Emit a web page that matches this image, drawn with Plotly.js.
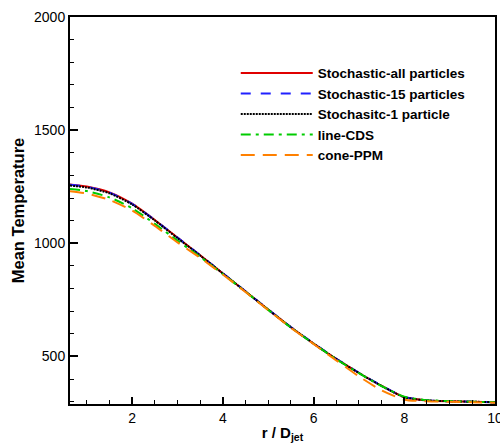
<!DOCTYPE html>
<html>
<head>
<meta charset="utf-8">
<script src="https://cdn.plot.ly/plotly-3.0.1.min.js"></script>
<style>html,body{margin:0;padding:0;background:#fff}#chart{width:500px;height:445px}</style>
</head>
<body>
<div id="chart"></div>
<script>
const r = [0.63, 1.0, 1.5, 2.0, 2.5, 3.0, 3.5, 4.0, 4.5, 5.0, 5.5, 6.0, 6.5, 7.0, 7.5, 8.0, 8.5, 9.0, 9.5, 10.0];
const allParticles = [1260, 1251, 1225, 1175, 1103, 1025, 947, 867, 787, 707, 629, 557, 489, 427, 370, 320, 306, 302, 300, 298];
const particles15  = [1259, 1250, 1224, 1174, 1103, 1025, 947, 868, 788, 708, 630, 558, 490, 428, 371, 321, 306, 302, 300, 298];
const particle1    = [1255, 1247, 1221, 1172, 1101, 1023, 946, 867, 787, 707, 629, 557, 489, 427, 370, 320, 306, 302, 300, 298];
const lineCDS      = [1240, 1231, 1203, 1155, 1086, 1012, 940, 864, 786, 706, 628, 556, 488, 426, 369, 322, 307, 303, 300, 298];
const conePPM      = [1230, 1220, 1192, 1145, 1077, 1004, 936, 862, 785, 705, 627, 555, 483, 412, 350, 309, 302, 300, 298, 296];
const names = ['Stochastic-all particles', 'Stochastic-15 particles', 'Stochasitc-1 particle', 'line-CDS', 'cone-PPM'];

const styles = [
  {color: '#e00000', dash: 'solid', width: 2},
  {color: '#2020ff', dash: '10px,10px', width: 2},
  {color: '#000000', dash: '2px,1px', width: 2},
  {color: '#00cc00', dash: '10px,5px,3px,5px', width: 2},
  {color: '#ff8000', dash: '14px,8px', width: 2}
];
const series = [allParticles, particles15, particle1, lineCDS, conePPM];
const traces = series.map((y, i) => ({
  x: r, y: y, type: 'scatter', mode: 'lines', name: names[i],
  line: {color: styles[i].color, dash: styles[i].dash, width: styles[i].width, shape: 'spline', smoothing: 0.6}
}));

const font = {family: 'Arial, "Liberation Sans", sans-serif', color: '#000'};
const layout = {
  width: 500, height: 445,
  margin: {l: 70, r: 5, t: 17, b: 41},
  paper_bgcolor: '#fff', plot_bgcolor: '#fff',
  font: font,
  showlegend: true,
  legend: {
    x: 0.39, y: 0.895, xanchor: 'left', yanchor: 'top',
    bgcolor: 'rgba(0,0,0,0)', borderwidth: 0,
    font: {family: font.family, size: 13.5, color: '#000', weight: 'bold'},
    itemwidth: 72, tracegroupgap: 0
  },
  xaxis: {
    range: [0.63, 10], showgrid: false, zeroline: false,
    showline: true, linecolor: '#000', linewidth: 2, mirror: true,
    ticks: 'inside', ticklen: 7, tickwidth: 2, tickcolor: '#000',
    tickvals: [2, 4, 6, 8, 10], ticklabeloverflow: 'allow',
    minor: {dtick: 0.5, ticks: 'inside', ticklen: 4, tickwidth: 1, tickcolor: '#000'},
    tickfont: {family: font.family, size: 14, color: '#000'},
    title: {text: '<b>r / D<sub>jet</sub></b>', font: {family: font.family, size: 15, color: '#000'}, standoff: 3}
  },
  yaxis: {
    range: [290, 2000], showgrid: false, zeroline: false,
    showline: true, linecolor: '#000', linewidth: 2, mirror: true,
    ticks: 'inside', ticklen: 8, tickwidth: 2, tickcolor: '#000',
    tickvals: [500, 1000, 1500, 2000], ticklabeloverflow: 'allow',
    minor: {dtick: 100, ticks: 'inside', ticklen: 4, tickwidth: 1, tickcolor: '#000'},
    tickfont: {family: font.family, size: 14, color: '#000'},
    title: {text: '<b>Mean Temperature</b>', font: {family: font.family, size: 16.5, color: '#000'}, standoff: 5}
  }
};
Plotly.newPlot('chart', traces, layout, {displayModeBar: false, staticPlot: true});
</script>
</body>
</html>
